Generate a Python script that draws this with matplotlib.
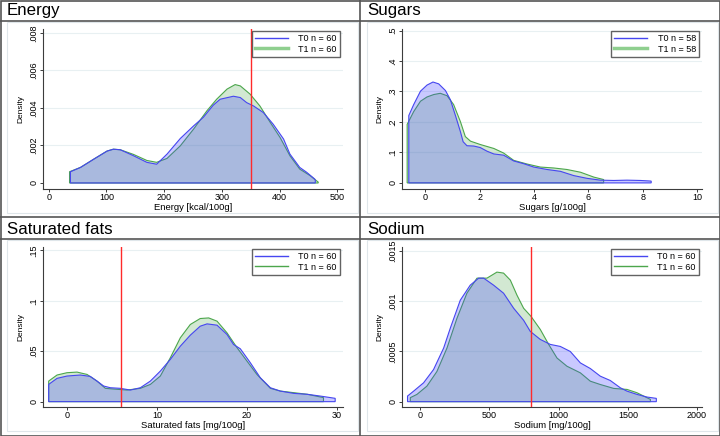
import matplotlib
matplotlib.use("Agg")
import matplotlib.pyplot as plt
from matplotlib.patches import Polygon, Rectangle
from matplotlib.lines import Line2D

plt.rcParams['font.family'] = ['Liberation Sans', 'DejaVu Sans']

# ---- data (kernel density curves) ----
energy_x_t0 = [37.5, 55, 78, 101, 112, 124, 147, 170, 187, 205, 228, 251, 268, 285, 297, 320,
               332, 343, 355, 372, 389, 407, 418, 435, 447, 461, 462]
energy_y_t0 = [0.0006, 0.00083, 0.00127, 0.0017, 0.0018, 0.00177, 0.00145, 0.0011, 0.001, 0.00154,
               0.00237, 0.00304, 0.0035, 0.00414, 0.00446, 0.00462, 0.00455, 0.00428, 0.0041,
               0.00375, 0.00313, 0.00234, 0.00154, 0.00083, 0.00057, 0.00021, 0.00015]
energy_x_t1 = [36, 55, 78, 101, 112, 124, 147, 170, 187, 205, 228, 251, 274, 291, 309, 323,
               332, 349, 366, 384, 401, 418, 435, 453, 464, 467]
energy_y_t1 = [0.0006, 0.00083, 0.00127, 0.0017, 0.0018, 0.00177, 0.00152, 0.0012, 0.0011, 0.00131,
               0.00198, 0.00287, 0.00384, 0.00446, 0.005, 0.00524, 0.00517, 0.00473, 0.0041,
               0.00322, 0.00242, 0.00145, 0.00074, 0.00039, 0.00012, 0.00005]

sugars_x_t0 = [-0.61, -0.43, -0.18, 0.06, 0.28, 0.49, 0.74, 0.92, 1.1, 1.29, 1.39, 1.53, 1.78, 2.02,
               2.27, 2.52, 2.88, 3.25, 3.62, 3.99, 4.48, 4.97, 5.46, 5.95, 6.44, 6.93, 7.42, 7.91, 8.31]
sugars_y_t0 = [0.221, 0.257, 0.301, 0.321, 0.331, 0.325, 0.303, 0.273, 0.223, 0.168, 0.135, 0.122,
               0.121, 0.116, 0.104, 0.095, 0.091, 0.072, 0.063, 0.052, 0.044, 0.038, 0.024, 0.015,
               0.009, 0.008, 0.009, 0.008, 0.006]
sugars_x_t1 = [-0.67, -0.43, -0.18, 0.06, 0.31, 0.55, 0.8, 1.04, 1.29, 1.47, 1.66, 2.02, 2.52, 2.88,
               3.25, 3.74, 4.23, 4.72, 5.21, 5.71, 6.2, 6.56]
sugars_y_t1 = [0.192, 0.234, 0.268, 0.282, 0.29, 0.294, 0.286, 0.257, 0.201, 0.152, 0.137, 0.126,
               0.113, 0.098, 0.074, 0.062, 0.052, 0.049, 0.044, 0.035, 0.019, 0.011]

satfat_x_t0 = [-2.04, -1.11, 0, 1.48, 2.59, 3.33, 4.07, 4.81, 5.93, 7.04, 8.15, 9.26, 10.37, 11.48,
               12.59, 13.7, 14.8, 15.56, 16.67, 17.78, 18.5, 19.26, 20.37, 21.48, 22.6, 23.7, 25.2,
               26.7, 28.1, 29.8]
satfat_y_t0 = [0.0171, 0.0231, 0.0254, 0.0264, 0.025, 0.0204, 0.0155, 0.0138, 0.0132, 0.0115, 0.0138,
               0.0204, 0.0303, 0.0419, 0.055, 0.0659, 0.0748, 0.0771, 0.0758, 0.0666, 0.0567, 0.0524,
               0.0386, 0.0237, 0.0138, 0.0105, 0.0082, 0.0073, 0.0056, 0.0033]
satfat_x_t1 = [-2.04, -1.11, 0, 1.11, 2.22, 3.33, 4.26, 5.19, 6.67, 8.15, 9.26, 10.37, 11.48, 12.59,
               13.7, 14.8, 15.74, 16.67, 17.78, 18.9, 20, 21.1, 22.6, 23.7, 25.2, 26.7, 28.5]
satfat_y_t1 = [0.0204, 0.0264, 0.0287, 0.0293, 0.027, 0.0204, 0.0132, 0.0125, 0.0115, 0.0132, 0.0171,
               0.0254, 0.0435, 0.0633, 0.0765, 0.0824, 0.083, 0.0798, 0.0682, 0.0534, 0.0402, 0.027,
               0.0132, 0.0105, 0.0089, 0.0073, 0.004]

sodium_x_t0 = [-92, -48, 24, 96, 169, 217, 289, 361, 422, 458, 530, 602, 675, 747, 795, 867, 940,
               1012, 1084, 1157, 1229, 1301, 1373, 1446, 1494, 1566, 1639, 1706]
sodium_y_t0 = [0.000056, 0.000105, 0.000188, 0.00032, 0.000534, 0.000732, 0.00101, 0.00116, 0.00123,
               0.00123, 0.00116, 0.00108, 0.00093, 0.00081, 0.0007, 0.00062, 0.00057, 0.00055,
               0.0005, 0.000386, 0.00033, 0.000254, 0.000211, 0.000138, 0.000105, 0.0000725,
               0.000046, 0.000033]
sodium_x_t1 = [-72, -24, 48, 120, 193, 265, 337, 410, 482, 554, 602, 651, 699, 747, 800, 867, 928,
               988, 1060, 1157, 1229, 1301, 1398, 1494, 1566, 1614, 1663]
sodium_y_t1 = [0.00004, 0.0000725, 0.000155, 0.0003, 0.000534, 0.00083, 0.00108, 0.00123, 0.00123,
               0.00129, 0.00128, 0.00121, 0.00106, 0.00093, 0.00085, 0.00072, 0.00057, 0.000435,
               0.000353, 0.000287, 0.000204, 0.000171, 0.000132, 0.000122, 0.000089, 0.000056,
               0.000023]

titles = ["Energy", "Sugars", "Saturated fats", "Sodium"]
xlabels = ["Energy [kcal/100g]", "Sugars [g/100g]", "Saturated fats [mg/100g]", "Sodium [mg/100g]"]
n_counts = [60, 58, 60, 60]
cutoffs = [350, None, 6, 800]
xticks = [[0, 100, 200, 300, 400, 500], [0, 2, 4, 6, 8, 10], [0, 10, 20, 30], [0, 500, 1000, 1500, 2000]]
yticks = [[0, 0.002, 0.004, 0.006, 0.008], [0, 0.1, 0.2, 0.3, 0.4, 0.5],
          [0, 0.05, 0.1, 0.15], [0, 0.0005, 0.001, 0.0015]]
ytick_labels = [["0", ".002", ".004", ".006", ".008"], ["0", ".1", ".2", ".3", ".4", ".5"],
                ["0", ".05", ".1", ".15"], ["0", ".0005", ".001", ".0015"]]
xlims = [(-10, 510), (-0.86, 10.18), (-2.67, 30.67), (-132, 2036)]
ylims = [(-0.00032, 0.0082), (-0.02, 0.505), (-0.0053, 0.1533), (-0.000053, 0.00154)]

curves = [
    (energy_x_t0, energy_y_t0, energy_x_t1, energy_y_t1),
    (sugars_x_t0, sugars_y_t0, sugars_x_t1, sugars_y_t1),
    (satfat_x_t0, satfat_y_t0, satfat_x_t1, satfat_y_t1),
    (sodium_x_t0, sodium_y_t0, sodium_x_t1, sodium_y_t1),
]

W, H = 720, 436
BLUE = "#4646f0"
GREEN = "#4ca64c"
EDGE = "#3c3c3c"

fig = plt.figure(figsize=(W / 100, H / 100), dpi=100)
fig.patch.set_facecolor("white")


def px_rect(x0, y0, x1, y1):
    # pixel box (top-left origin) -> figure fraction rect
    return [x0 / W, 1 - y1 / H, (x1 - x0) / W, (y1 - y0) / H]


def area(ax, xs, ys, face, edge, z):
    pts = [(xs[0], 0)] + list(zip(xs, ys)) + [(xs[-1], 0)]
    ax.add_patch(Polygon(pts, closed=True, facecolor=face, edgecolor=edge, lw=0.8, zorder=z))


origins = [(0, 0), (360, 0), (0, 218), (360, 218)]

for i, (ox, oy) in enumerate(origins):
    # light plot-region frame
    fig.add_artist(Rectangle((ox + 7, H - (oy + 213)), 351, 191, transform=None,
                             fill=False, edgecolor="#dfe6ea", lw=0.8))
    fig.text((ox + 7) / W, 1 - (oy + 11) / H, titles[i], fontsize=12.2, va="center",
             ha="left", color="black")

    left = ox + (43 if ox == 0 else 42)
    ax = fig.add_axes(px_rect(left, oy + 29, left + 300, oy + 189))
    ax.set_xlim(*xlims[i])
    ax.set_ylim(*ylims[i])

    x0, y0, x1, y1 = curves[i]
    area(ax, x1, y1, (0.30, 0.65, 0.30, 0.25), GREEN, 2)
    area(ax, x0, y0, (0.25, 0.25, 1.0, 0.28), BLUE, 3)

    if cutoffs[i] is not None:
        ax.axvline(cutoffs[i], color="#ff2a2a", lw=1.0, zorder=4)

    ax.set_xticks(xticks[i])
    ax.set_yticks(yticks[i])
    ax.set_yticklabels(ytick_labels[i], rotation=90, va="center")
    ax.tick_params(labelsize=6.5, length=2.2, width=0.7, color=EDGE, pad=1.0)
    ax.tick_params(axis="x", pad=0.6)
    for t in yticks[i][1:]:
        ax.axhline(t, color="#e8f0f2", lw=0.8, zorder=1)
    for s in ["top", "right"]:
        ax.spines[s].set_visible(False)
    for s in ["left", "bottom"]:
        ax.spines[s].set_color(EDGE)
        ax.spines[s].set_linewidth(0.8)
    ax.set_xlabel(xlabels[i], fontsize=6.8, labelpad=0.8)
    ax.set_ylabel("Density", fontsize=6, labelpad=4)

    lw1 = 2.5 if i < 2 else 1.0
    handles = [Line2D([], [], color=BLUE, lw=1.0),
               Line2D([], [], color="#8fcf8f" if i < 2 else GREEN, lw=lw1)]
    leg = ax.legend(handles, [f"T0 n = {n_counts[i]}", f"T1 n = {n_counts[i]}"],
                    loc="upper right", bbox_to_anchor=(0.99, 0.99), fontsize=6.5,
                    frameon=True, fancybox=False, handlelength=3.6, handletextpad=1.2,
                    borderpad=0.35, labelspacing=0.2, borderaxespad=0)
    leg.get_frame().set_edgecolor(EDGE)
    leg.get_frame().set_linewidth(1.0)

# panel borders, dividers and title underlines
line_kw = dict(transform=None, color="#555555", lw=1.2)
fig.add_artist(Rectangle((0.5, 0.5), W - 1, H - 1, transform=None, fill=False,
                         edgecolor="#555555", lw=1.2))
fig.add_artist(Line2D([360, 360], [0, H], **line_kw))
fig.add_artist(Line2D([0, W], [H - 217, H - 217], **line_kw))
fig.add_artist(Line2D([0, W], [H - 20.5, H - 20.5], **line_kw))
fig.add_artist(Line2D([0, W], [H - 238.5, H - 238.5], **line_kw))

fig.savefig("out.png", dpi=100)
